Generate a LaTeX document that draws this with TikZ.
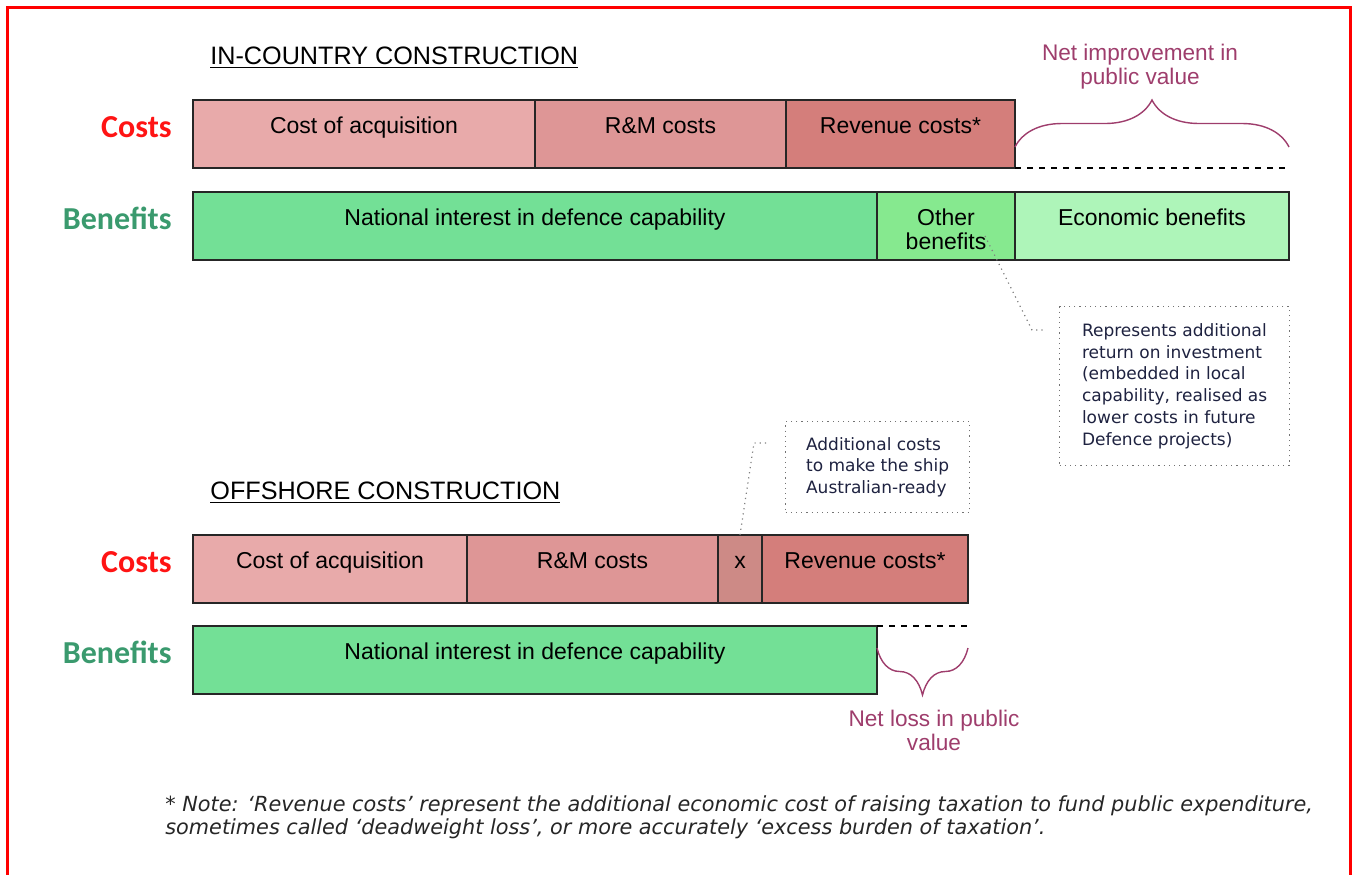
\documentclass[tikz,border=0pt]{standalone}
\usepackage{fontspec}
\setmainfont{Liberation Sans}
\newfontfamily\lblfont{Carlito}
\newfontfamily\notefont{DejaVu Sans}
\usetikzlibrary{positioning,decorations.pathreplacing}

\definecolor{acqfill}{HTML}{E8AAAA}
\definecolor{rmfill}{HTML}{DE9696}
\definecolor{xfill}{HTML}{CD8A86}
\definecolor{revfill}{HTML}{D47E7B}
\definecolor{natfill}{HTML}{73E096}
\definecolor{othfill}{HTML}{86E98F}
\definecolor{ecofill}{HTML}{AEF5B9}
\definecolor{costred}{HTML}{FF1414}
\definecolor{benegreen}{HTML}{3A9A6E}
\definecolor{valpurple}{HTML}{9E3D6C}
\definecolor{calltext}{HTML}{1E2240}

\tikzset{
  seg/.style      = {draw=black!85, line width=0.6pt, inner sep=0pt, outer sep=0pt,
                     minimum height=34pt, text height=16.5pt, text depth=17.5pt,
                     anchor=north west, font=\fontsize{11.5}{12}\selectfont},
  costlbl/.style  = {text=costred, font=\lblfont\bfseries\fontsize{16}{17}\selectfont,
                     anchor=base east, inner sep=0pt},
  benelbl/.style  = {costlbl, text=benegreen},
  ttl/.style      = {font=\fontsize{12.6}{14}\selectfont, anchor=base west, inner sep=0pt},
  callout/.style  = {draw=black!55, dotted, line width=0.6pt, anchor=north west, align=left,
                     text=calltext, font=\notefont\fontsize{8.5}{10.85}\selectfont},
  leader/.style   = {draw=black!50, dotted, line width=0.6pt},
  valbrace/.style = {draw=valpurple, line width=0.7pt, decorate,
                     decoration={brace, amplitude=23.5pt}},
  valtxt/.style   = {text=valpurple, align=center, font=\fontsize{11.3}{12}\selectfont}
}

\begin{document}
\begin{tikzpicture}[x=0.5pt, y=-0.5pt]
\useasboundingbox (0,0) rectangle (1356,874);
\draw[red, line width=1.5pt] (7,880) -- (7,7) -- (1350,7) -- (1350,880);

% in-country construction
\node[ttl] (titleA) at (210,64) {\underline{IN-COUNTRY CONSTRUCTION}};
\node[seg, fill=acqfill, minimum width=171pt] (acqA) at (193,100) {Cost of acquisition};
\node[seg, fill=rmfill, minimum width=125.5pt, right=0pt of acqA] (rmA) {R\&M costs};
\node[seg, fill=revfill, minimum width=114.5pt, right=0pt of rmA] (revA) {Revenue costs*};
\node[seg, fill=natfill, minimum width=342pt] (natA) at (193,192)
      {National interest in defence capability};
\node[seg, fill=othfill, minimum width=69pt, right=0pt of natA] (othA)
      {\begin{tabular}[t]{@{}c@{}}Other\\benefits\end{tabular}};
\node[seg, fill=ecofill, minimum width=137pt, right=0pt of othA] (ecoA) {Economic benefits};
\node[costlbl] (costA) at (172,137) {Costs};
\node[benelbl] (beneA) at (172,229) {Benefits};

\draw[dashed, line width=0.6pt] (revA.south east) -- (revA.south east -| ecoA.east);
\coordinate (gainL) at ([yshift=10.5pt]revA.south east);
\coordinate (gainR) at (gainL -| ecoA.east);
\draw[valbrace] (gainL) -- (gainR);
\node[valtxt] (gainTxt) at (1140,67) {Net improvement in\\public value};

\node[callout, minimum width=115pt, minimum height=79.5pt] (noteA) at (1059,306)
      {Represents additional\\return on investment\\(embedded in local\\capability, realised as\\lower costs in future\\Defence projects)};
\coordinate (othTip) at (985,236);
\coordinate (noteAend) at (1045,330);
\draw[leader] (othTip) -- (1032,330) -- (noteAend);

% offshore construction
\node[ttl] (titleB) at (210,499) {\underline{OFFSHORE CONSTRUCTION}};
\node[callout, minimum width=92pt, minimum height=45.5pt] (noteB) at (785,421)
      {Additional costs\\to make the ship\\Australian-ready};
\node[seg, fill=acqfill, minimum width=137pt] (acqB) at (193,535) {Cost of acquisition};
\node[seg, fill=rmfill, minimum width=125.5pt, right=0pt of acqB] (rmB) {R\&M costs};
\node[seg, fill=xfill, minimum width=22pt, right=0pt of rmB] (xB) {x};
\node[seg, fill=revfill, minimum width=103pt, right=0pt of xB] (revB) {Revenue costs*};
\node[seg, fill=natfill, minimum width=342pt] (natB) at (193,626)
      {National interest in defence capability};
\node[costlbl] (costB) at (172,572) {Costs};
\node[benelbl] (beneB) at (172,663) {Benefits};

\coordinate (noteBend) at (770,443);
\draw[leader] (xB.north) -- (754,443) -- (noteBend);

\draw[dashed, line width=0.6pt] (natB.north east) -- (natB.north east -| revB.east);
\coordinate (lossL) at ([yshift=-11pt]natB.north east);
\coordinate (lossR) at (lossL -| revB.east);
\draw[valbrace] (lossR) -- (lossL);
\node[valtxt] (lossTxt) at (934,730) {Net loss in public\\value};

\node[anchor=north west, align=left, inner sep=0pt, text=black!85,
      font=\notefont\itshape\fontsize{10.4}{11.6}\selectfont] (footnote) at (165,795)
      {* Note: ‘Revenue costs’ represent the additional economic cost of raising taxation to fund public expenditure,\\
       sometimes called ‘deadweight loss’, or more accurately ‘excess burden of taxation’.};
\end{tikzpicture}
\end{document}
